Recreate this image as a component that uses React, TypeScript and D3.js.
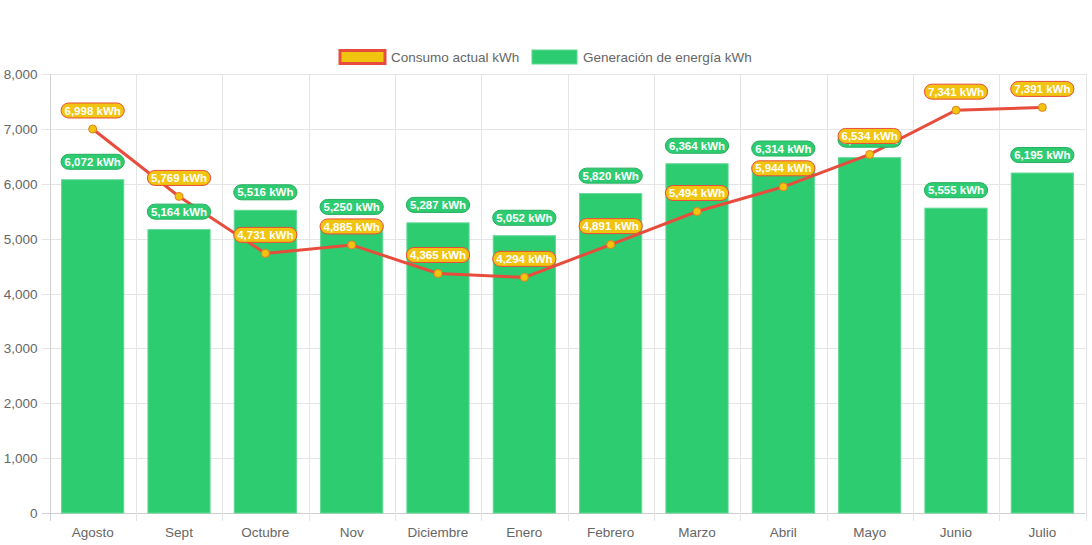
import React, { useEffect, useRef } from "react";
import * as d3 from "d3";

const categories = ["Agosto", "Sept", "Octubre", "Nov", "Diciembre", "Enero", "Febrero", "Marzo", "Abril", "Mayo", "Junio", "Julio"];
const consumo = [6998, 5769, 4731, 4885, 4365, 4294, 4891, 5494, 5944, 6534, 7341, 7391];
const generacion = [6072, 5164, 5516, 5250, 5287, 5052, 5820, 6364, 6314, 6475, 5555, 6195];
const yTicks = [0, 1000, 2000, 3000, 4000, 5000, 6000, 7000, 8000];
const legendLabels = ["Consumo actual kWh", "Generación de energía kWh"];

const W = 1092;
const H = 545;
const FONT = "'Liberation Sans', Arial, Helvetica, sans-serif";
const AXIS_FS = 13.5;

export default function App() {
  const ref = useRef<SVGSVGElement>(null);

  useEffect(() => {
    const svg = d3.select(ref.current);
    svg.selectAll("*").remove();

    const left = 49.5, right = 1085.5, top = 74, bottom = 513;
    const x = d3.scaleBand<string>().domain(categories).range([left, right]);
    const y = d3.scaleLinear().domain([0, 8000]).range([bottom, top]);
    const grid = "#e5e5e5";

    const g = svg.append("g");
    yTicks.forEach((t) => {
      const yy = Math.round(y(t)) + 0.5;
      g.append("line").attr("x1", left - 8).attr("x2", right).attr("y1", yy).attr("y2", yy)
        .attr("stroke", t === 0 ? "#d0d0d0" : grid).attr("stroke-width", 1);
      g.append("text").attr("x", left - 12).attr("y", yy).attr("dy", "0.35em")
        .attr("text-anchor", "end").attr("font-family", FONT).attr("font-size", AXIS_FS)
        .attr("fill", "#666").text(d3.format(",")(t));
    });
    for (let i = 0; i <= categories.length; i++) {
      const xx = Math.round(left + i * x.step()) + 0.5;
      g.append("line").attr("x1", xx).attr("x2", xx).attr("y1", top).attr("y2", bottom + 8)
        .attr("stroke", i === 0 ? "#d0d0d0" : grid).attr("stroke-width", 1);
    }
    categories.forEach((c) => {
      g.append("text").attr("x", x(c)! + x.bandwidth() / 2).attr("y", 537)
        .attr("text-anchor", "middle").attr("font-family", FONT).attr("font-size", AXIS_FS)
        .attr("fill", "#666").text(c);
    });

    const bw = x.bandwidth() * 0.72;
    svg.append("g").selectAll("rect").data(generacion).join("rect")
      .attr("x", (_, i) => x(categories[i])! + (x.bandwidth() - bw) / 2)
      .attr("y", (d) => y(d))
      .attr("width", bw)
      .attr("height", (d) => y(0) - y(d))
      .attr("fill", "#2ecc71")
      .attr("stroke", "#5dd892").attr("stroke-width", 1);

    const cx = (i: number) => x(categories[i])! + x.bandwidth() / 2;
    const line = d3.line<number>().x((_, i) => cx(i)).y((d) => y(d));
    svg.append("path").datum(consumo).attr("d", line).attr("fill", "none")
      .attr("stroke", "#e74c3c").attr("stroke-width", 3);
    svg.append("g").selectAll("circle").data(consumo).join("circle")
      .attr("cx", (_, i) => cx(i)).attr("cy", (d) => y(d)).attr("r", 4)
      .attr("fill", "#f1c40f").attr("stroke", "#e67e22").attr("stroke-width", 1);

    const fmt = (v: number) => d3.format(",")(v) + " kWh";
    const drawLabel = (parent: any, cxv: number, cyv: number, text: string, fill: string, stroke: string) => {
      const lg = parent.append("g");
      const t = lg.append("text").attr("x", cxv).attr("y", cyv).attr("dy", "0.36em")
        .attr("text-anchor", "middle").attr("font-family", FONT).attr("font-size", 11.5)
        .attr("font-weight", "bold").attr("fill", "#fff").text(text);
      const tw = (t.node() as SVGTextElement).getComputedTextLength();
      const w = tw + 7, h = 15;
      lg.insert("rect", "text").attr("x", cxv - w / 2).attr("y", cyv - h / 2)
        .attr("width", w).attr("height", h).attr("rx", 7.5)
        .attr("fill", fill).attr("stroke", stroke).attr("stroke-width", 1);
    };

    const lblG = svg.append("g");
    generacion.forEach((v, i) => drawLabel(lblG, cx(i), y(v) - 18, fmt(v), "#2ecc71", "#27ae60"));
    consumo.forEach((v, i) => drawLabel(lblG, cx(i), y(v) - 18.5, fmt(v), "#f1c40f", "#e74c3c"));

    const leg = svg.append("g");
    leg.append("rect").attr("x", 340).attr("y", 50.5).attr("width", 45).attr("height", 13)
      .attr("fill", "#f1c40f").attr("stroke", "#e74c3c").attr("stroke-width", 3);
    leg.append("text").attr("x", 391).attr("y", 57).attr("dy", "0.35em").attr("font-family", FONT)
      .attr("font-size", AXIS_FS).attr("fill", "#666").text(legendLabels[0]);
    leg.append("rect").attr("x", 532).attr("y", 50).attr("width", 45).attr("height", 14)
      .attr("fill", "#2ecc71").attr("stroke", "#5dd892").attr("stroke-width", 1);
    leg.append("text").attr("x", 583).attr("y", 57).attr("dy", "0.35em").attr("font-family", FONT)
      .attr("font-size", AXIS_FS).attr("fill", "#666").text(legendLabels[1]);
  }, []);

  return (
    <svg ref={ref} width={W} height={H} style={{ position: "absolute", left: 0, top: 0, background: "#fff" }} />
  );
}
